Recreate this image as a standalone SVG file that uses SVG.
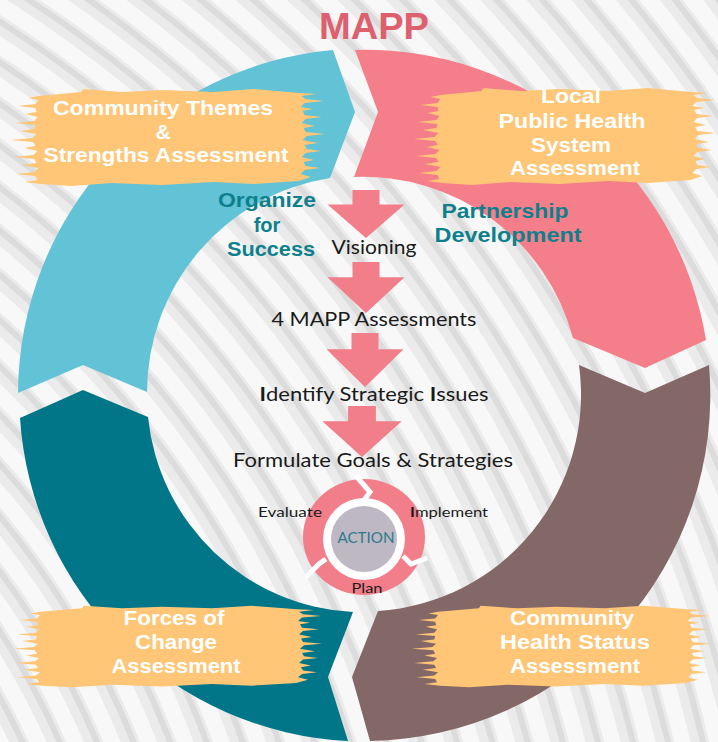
<svg xmlns="http://www.w3.org/2000/svg" xmlns:xlink="http://www.w3.org/1999/xlink" width="718" height="742" viewBox="0 0 718 742">
<style>
.bn{fill:#FEC676}
.bt{font-family:"Liberation Sans",Arial,sans-serif;font-weight:700;font-size:21px;fill:#ffffff;text-anchor:middle}
.tl{font-family:"Liberation Sans",Arial,sans-serif;font-weight:700;font-size:20px;fill:#0E7F8C;text-anchor:middle}
.st{font-family:"Lato","Open Sans",sans-serif;font-weight:400;font-size:19px;fill:#1a1a1a;text-anchor:middle}
.sm{font-family:"Lato","Open Sans",sans-serif;font-weight:400;font-size:14px;fill:#1a1a1a;text-anchor:middle}
.arr{fill:#F27E8A}
.cut{fill:none;stroke:#ffffff;stroke-width:5;stroke-linejoin:miter}
.bgw{fill:none;stroke:#fafafa;stroke-width:16;opacity:0.9}
.bgg{fill:none;stroke:#d6d6d6;stroke-width:6;opacity:0.7}
</style>
<defs>
<path id="brush" d="M28,8 L70,4 L72,1 L110,4 L150,2 L200,4 L240,1 L262,3 L285,5 L302,6 L287,8 L291,11 L309,13 L290,15 L286,19 L298,21 L288,23 L290,27 L307,29 L291,31 L287,35 L300,38 L289,40 L291,44 L310,46 L292,48 L288,52 L303,55 L290,57 L292,61 L306,63 L291,65 L287,69 L299,72 L289,74 L291,78 L305,80 L290,82 L286,86 L296,89 L284,93 L240,96 L200,94 L150,97 L100,95 L60,98 L30,96 L14,94 L27,92 L25,88 L6,86 L24,84 L28,80 L12,77 L26,75 L24,71 L3,69 L23,67 L27,63 L14,60 L25,58 L23,54 L1,52 L22,50 L26,46 L10,43 L24,41 L25,37 L5,35 L24,33 L27,29 L15,26 L26,24 L25,20 L8,18 L25,16 L28,12 L18,10 Z"/>
<polygon id="downarrow" points="-13.5,0 13.5,0 13.5,15 38.5,15 0,50 -38.5,15 -13.5,15"/>
</defs>

<!-- background -->
<rect x="0" y="0" width="718" height="742" fill="#ebebeb"/>
<g id="background-stripes">
<circle class="bgg" cx="-673" cy="1068" r="700"/><circle class="bgw" cx="-673" cy="1068" r="714"/>
<circle class="bgg" cx="-673" cy="1068" r="734"/><circle class="bgw" cx="-673" cy="1068" r="748"/>
<circle class="bgg" cx="-673" cy="1068" r="768"/><circle class="bgw" cx="-673" cy="1068" r="782"/>
<circle class="bgg" cx="-673" cy="1068" r="802"/><circle class="bgw" cx="-673" cy="1068" r="816"/>
<circle class="bgg" cx="-673" cy="1068" r="836"/><circle class="bgw" cx="-673" cy="1068" r="850"/>
<circle class="bgg" cx="-673" cy="1068" r="870"/><circle class="bgw" cx="-673" cy="1068" r="884"/>
<circle class="bgg" cx="-673" cy="1068" r="904"/><circle class="bgw" cx="-673" cy="1068" r="918"/>
<circle class="bgg" cx="-673" cy="1068" r="938"/><circle class="bgw" cx="-673" cy="1068" r="952"/>
<circle class="bgg" cx="-673" cy="1068" r="972"/><circle class="bgw" cx="-673" cy="1068" r="986"/>
<circle class="bgg" cx="-673" cy="1068" r="1006"/><circle class="bgw" cx="-673" cy="1068" r="1020"/>
<circle class="bgg" cx="-673" cy="1068" r="1040"/><circle class="bgw" cx="-673" cy="1068" r="1054"/>
<circle class="bgg" cx="-673" cy="1068" r="1074"/><circle class="bgw" cx="-673" cy="1068" r="1088"/>
<circle class="bgg" cx="-673" cy="1068" r="1108"/><circle class="bgw" cx="-673" cy="1068" r="1122"/>
<circle class="bgg" cx="-673" cy="1068" r="1142"/><circle class="bgw" cx="-673" cy="1068" r="1156"/>
<circle class="bgg" cx="-673" cy="1068" r="1176"/><circle class="bgw" cx="-673" cy="1068" r="1190"/>
<circle class="bgg" cx="-673" cy="1068" r="1210"/><circle class="bgw" cx="-673" cy="1068" r="1224"/>
<circle class="bgg" cx="-673" cy="1068" r="1244"/><circle class="bgw" cx="-673" cy="1068" r="1258"/>
<circle class="bgg" cx="-673" cy="1068" r="1278"/><circle class="bgw" cx="-673" cy="1068" r="1292"/>
<circle class="bgg" cx="-673" cy="1068" r="1312"/><circle class="bgw" cx="-673" cy="1068" r="1326"/>
<circle class="bgg" cx="-673" cy="1068" r="1346"/><circle class="bgw" cx="-673" cy="1068" r="1360"/>
<circle class="bgg" cx="-673" cy="1068" r="1380"/><circle class="bgw" cx="-673" cy="1068" r="1394"/>
<circle class="bgg" cx="-673" cy="1068" r="1414"/><circle class="bgw" cx="-673" cy="1068" r="1428"/>
<circle class="bgg" cx="-673" cy="1068" r="1448"/><circle class="bgw" cx="-673" cy="1068" r="1462"/>
<circle class="bgg" cx="-673" cy="1068" r="1482"/><circle class="bgw" cx="-673" cy="1068" r="1496"/>
<circle class="bgg" cx="-673" cy="1068" r="1516"/><circle class="bgw" cx="-673" cy="1068" r="1530"/>
<circle class="bgg" cx="-673" cy="1068" r="1550"/><circle class="bgw" cx="-673" cy="1068" r="1564"/>
<circle class="bgg" cx="-673" cy="1068" r="1584"/><circle class="bgw" cx="-673" cy="1068" r="1598"/>
<circle class="bgg" cx="-673" cy="1068" r="1618"/><circle class="bgw" cx="-673" cy="1068" r="1632"/>
<circle class="bgg" cx="-673" cy="1068" r="1652"/><circle class="bgw" cx="-673" cy="1068" r="1666"/>
<circle class="bgg" cx="-673" cy="1068" r="1686"/><circle class="bgw" cx="-673" cy="1068" r="1700"/>
<circle class="bgg" cx="-673" cy="1068" r="1720"/><circle class="bgw" cx="-673" cy="1068" r="1734"/>
<circle class="bgg" cx="-673" cy="1068" r="1754"/><circle class="bgw" cx="-673" cy="1068" r="1768"/>
<circle class="bgg" cx="-673" cy="1068" r="1788"/><circle class="bgw" cx="-673" cy="1068" r="1802"/>
<circle class="bgg" cx="-673" cy="1068" r="1822"/><circle class="bgw" cx="-673" cy="1068" r="1836"/>
<circle class="bgg" cx="-673" cy="1068" r="1856"/><circle class="bgw" cx="-673" cy="1068" r="1870"/>
<circle class="bgg" cx="-673" cy="1068" r="1890"/><circle class="bgw" cx="-673" cy="1068" r="1904"/>
</g>

<text id="title" x="374" y="39" font-family="'Liberation Sans',sans-serif" font-weight="700" font-size="36" fill="#DD606F" text-anchor="middle" textLength="110" lengthAdjust="spacingAndGlyphs">MAPP</text>

<!-- ring segments -->
<g id="seg-community-themes">
<path fill="#62C3D6" d="M18,393 L83,365 L147,392 A217,217 0 0 1 330,178 L355,112 L333,50 A346,346 0 0 0 18,393 Z"/>
</g>
<g id="seg-local-public-health">
<path fill="#F47F8A" d="M355,50 L378,112 L354,177 A217,217 0 0 1 573,338 L645,368 L706,340 A346,346 0 0 0 355,50 Z"/>
</g>
<g id="seg-community-health-status">
<path fill="#846767" d="M579,365 L645,393 L709,365 A346,346 0 0 1 370,741 L352,677 L378,611 A217,217 0 0 0 579,365 Z"/>
</g>
<g id="seg-forces-of-change">
<path fill="#007688" d="M348,741 L328,677 L353,612 A217,217 0 0 1 148,417 L83,390 L20,418 A346,346 0 0 0 348,741 Z"/>
</g>

<!-- banners -->
<g id="banner-community-themes">
<use xlink:href="#brush" class="bn" transform="translate(10,88) scale(1.016,1)"/>
<text class="bt" x="163" y="115" textLength="220" lengthAdjust="spacingAndGlyphs">Community Themes</text>
<text class="bt" x="163" y="139">&amp;</text>
<text class="bt" x="166" y="162" textLength="245" lengthAdjust="spacingAndGlyphs">Strengths Assessment</text>
</g>
<g id="banner-local-public-health">
<use xlink:href="#brush" class="bn" transform="translate(413,87) scale(0.977,1)"/>
<text class="bt" x="571" y="103" textLength="60" lengthAdjust="spacingAndGlyphs">Local</text>
<text class="bt" x="572" y="128" textLength="147" lengthAdjust="spacingAndGlyphs">Public Health</text>
<text class="bt" x="571" y="152" textLength="80" lengthAdjust="spacingAndGlyphs">System</text>
<text class="bt" x="575" y="175" textLength="130" lengthAdjust="spacingAndGlyphs">Assessment</text>
</g>
<g id="banner-forces-of-change">
<use xlink:href="#brush" class="bn" transform="translate(12,605) scale(1,0.84)"/>
<text class="bt" x="174" y="625" textLength="101" lengthAdjust="spacingAndGlyphs">Forces of</text>
<text class="bt" x="176" y="649" textLength="82" lengthAdjust="spacingAndGlyphs">Change</text>
<text class="bt" x="176" y="673" textLength="129" lengthAdjust="spacingAndGlyphs">Assessment</text>
</g>
<g id="banner-community-health-status">
<use xlink:href="#brush" class="bn" transform="translate(411,605) scale(0.968,0.84)"/>
<text class="bt" x="572" y="625" textLength="124" lengthAdjust="spacingAndGlyphs">Community</text>
<text class="bt" x="575" y="649" textLength="150" lengthAdjust="spacingAndGlyphs">Health Status</text>
<text class="bt" x="575" y="673" textLength="130" lengthAdjust="spacingAndGlyphs">Assessment</text>
</g>

<!-- phase labels -->
<g id="label-organize">
<text class="tl" x="267" y="207" textLength="98" lengthAdjust="spacingAndGlyphs">Organize</text>
<text class="tl" x="267" y="232">for</text>
<text class="tl" x="271" y="256" textLength="88" lengthAdjust="spacingAndGlyphs">Success</text>
</g>
<g id="label-partnership">
<text class="tl" x="505" y="218" textLength="127" lengthAdjust="spacingAndGlyphs">Partnership</text>
<text class="tl" x="508" y="242" textLength="147" lengthAdjust="spacingAndGlyphs">Development</text>
</g>

<!-- connectors (down arrows) -->
<g id="connectors">
<use xlink:href="#downarrow" class="arr" transform="translate(366,190) scale(1,0.96)"/>
<use xlink:href="#downarrow" class="arr" transform="translate(366,262) scale(1,1.02)"/>
<use xlink:href="#downarrow" class="arr" transform="translate(365,333) scale(1,1.08)"/>
<use xlink:href="#downarrow" class="arr" transform="translate(362,406) scale(1.03,1.02)"/>
</g>

<!-- steps -->
<g id="step-visioning"><text class="st" x="374" y="254" textLength="85" lengthAdjust="spacingAndGlyphs">Visioning</text></g>
<g id="step-assessments"><text class="st" x="374" y="326" textLength="205" lengthAdjust="spacingAndGlyphs">4 MAPP Assessments</text></g>
<g id="step-issues"><text class="st" x="374" y="401" textLength="229" lengthAdjust="spacingAndGlyphs"><tspan font-weight="700">I</tspan>dentify Strategic <tspan font-weight="700">I</tspan>ssues</text></g>
<g id="step-goals"><text class="st" x="373" y="467" textLength="280" lengthAdjust="spacingAndGlyphs">Formulate Goals &amp; Strategies</text></g>

<!-- action cycle -->
<g id="action-cycle">
<ellipse cx="364" cy="537" rx="61" ry="58" fill="#F27E8A"/>
<circle cx="364" cy="539" r="41" fill="#ffffff"/>
<circle cx="364" cy="539" r="33" fill="#BDB8C3"/>
<polyline class="cut" points="356,476 370,492 362,503"/>
<polyline class="cut" points="403,556 411,564 427,558"/>
<polyline class="cut" points="326,559 319,564 306,577"/>
<text x="366" y="543" font-family="'Lato','Open Sans',sans-serif" font-size="15" fill="#2E7A89" text-anchor="middle" textLength="57" lengthAdjust="spacingAndGlyphs">ACTION</text>
</g>
<g id="label-evaluate"><text class="sm" x="290" y="517" textLength="64" lengthAdjust="spacingAndGlyphs">Evaluate</text></g>
<g id="label-implement"><text class="sm" x="449" y="517" textLength="78" lengthAdjust="spacingAndGlyphs"><tspan font-weight="700">I</tspan>mplement</text></g>
<g id="label-plan"><text class="sm" x="367" y="593" textLength="31" lengthAdjust="spacingAndGlyphs">Plan</text></g>
</svg>
